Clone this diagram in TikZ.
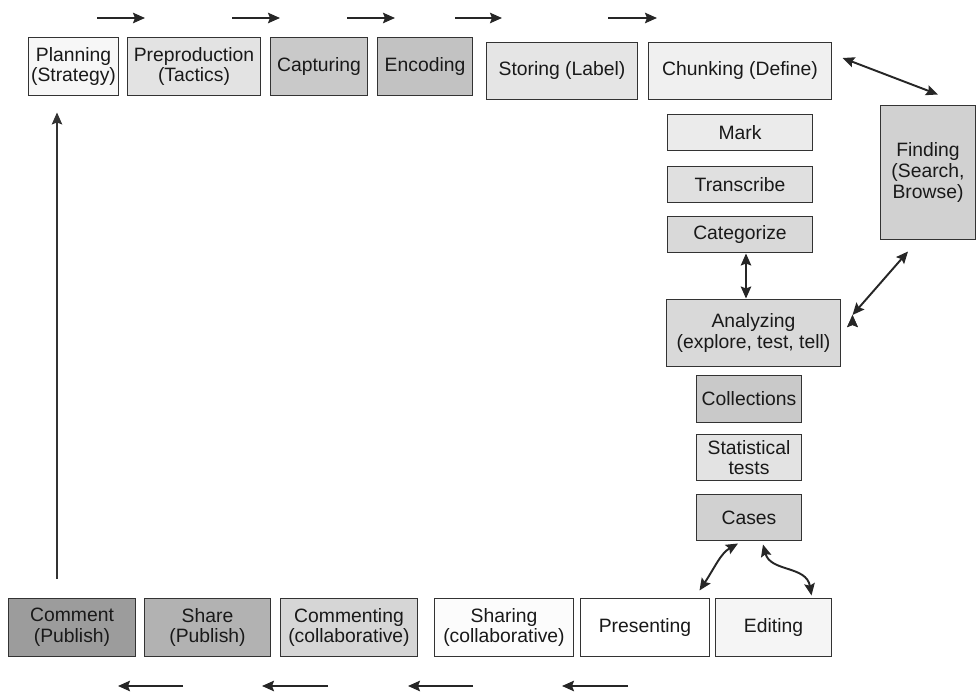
\documentclass[tikz,border=0pt]{standalone}
\usepackage{fontspec}
\setmainfont{Liberation Sans}
\usetikzlibrary{arrows.meta, positioning}

\begin{document}
\begin{tikzpicture}
	\tikzset {>={Stealth[length=2.4mm, width=2.1mm, inset=0.4mm]}, node distance=0.2cm,
		box/.style={draw=black!80, line width=1pt, fill=#1, text=black!90, align=center, inner sep=1pt, outer sep=0pt, minimum height=1.16cm, font=\fontsize{11}{11.8}\selectfont},
		box/.default=white,
		slim/.style={minimum height=0.72cm},
		flow/.style={->, line width=1.1pt, black!85},
		link/.style={<->, line width=1.1pt, black!85} }

	\useasboundingbox (0,0) rectangle (19.56,-13.86);

	% production chain along the top
	\node[box=black!3, minimum width=1.8cm] (plan) at (1.47,-1.33) {Planning\\(Strategy)};
	\node[box=black!11, minimum width=2.66cm, right=0.18cm of plan] (preprod) {Preproduction\\(Tactics)};
	\node[box=black!21, minimum width=1.94cm, right=0.2cm of preprod] (capture) {Capturing};
	\node[box=black!24, minimum width=1.9cm, right=0.2cm of capture] (encode) {Encoding};
	\node[box=black!10, minimum width=3.02cm, minimum height=1.14cm, right=0.28cm of encode, yshift=-0.09cm] (store) {Storing (Label)};
	\node[box=black!6, minimum width=3.66cm, minimum height=1.14cm, right=0.22cm of store] (chunk) {Chunking (Define)};
	\node[box=black!18, minimum width=1.9cm, minimum height=2.68cm] (find) at (18.56,-3.45) {Finding\\(Search,\\Browse)};

	% analysis column
	\node[box=black!8, slim, minimum width=2.9cm, below=0.3cm of chunk] (mark) {Mark};
	\node[box=black!12, slim, minimum width=2.9cm, below=0.32cm of mark] (transcribe) {Transcribe};
	\node[box=black!15, slim, minimum width=2.9cm, below=0.28cm of transcribe] (categorize) {Categorize};
	\node[box=black!15, minimum width=3.48cm, minimum height=1.34cm, below=0.94cm of categorize, xshift=0.27cm] (analyze) {Analyzing\\(explore, test, tell)};
	\node[box=black!21, minimum width=2.1cm, minimum height=0.94cm, below=0.18cm of analyze, xshift=-0.09cm] (collect) {Collections};
	\node[box=black!11, minimum width=2.1cm, minimum height=0.92cm, below=0.24cm of collect] (stats) {Statistical\\tests};
	\node[box=black!18, minimum width=2.1cm, minimum height=0.92cm, below=0.28cm of stats] (cases) {Cases};

	% publishing chain along the bottom
	\node[box=black!39, minimum width=2.54cm] (comment) at (1.44,-12.55) {Comment\\(Publish)};
	\node[box=black!30, minimum width=2.52cm, right=0.18cm of comment] (share) {Share\\(Publish)};
	\node[box=black!16, minimum width=2.74cm, right=0.2cm of share] (commenting) {Commenting\\(collaborative)};
	\node[box=black!1, minimum width=2.78cm, right=0.34cm of commenting] (sharing) {Sharing\\(collaborative)};
	\node[box, minimum width=2.58cm, right=0.14cm of sharing] (present) {Presenting};
	\node[box=black!4, minimum width=2.32cm, right=0.12cm of present] (edit) {Editing};

	% direction markers
	\foreach \n/\a/\b in {1/1.94/2.9, 2/4.64/5.6, 3/6.94/7.9, 4/9.1/10.04, 5/12.16/13.14} {
		\coordinate (top\n a) at (\a,-0.36);
		\coordinate (top\n b) at (\b,-0.36);
		\draw[flow] (top\n a) -- (top\n b);
	}
	\foreach \n/\a/\b in {1/3.66/2.36, 2/6.56/5.24, 3/9.46/8.16, 4/12.56/11.24} {
		\coordinate (bot\n a) at (\a,-13.72);
		\coordinate (bot\n b) at (\b,-13.72);
		\draw[flow] (bot\n a) -- (bot\n b);
	}

	\coordinate (loopfoot) at (1.14,-11.58);
	\draw[->, line width=0.7pt, black!80, shorten >=0.34cm] (loopfoot) -- (loopfoot |- plan.south);

	\draw[link]
		([xshift=0.22cm, yshift=0.26cm]chunk.east) edge ([xshift=0.2cm, yshift=0.22cm]find.north)
		([xshift=0.12cm, yshift=-0.02cm]categorize.south) edge ([xshift=0.12cm, yshift=0.02cm]categorize.south |- analyze.north)
		([xshift=0.24cm, yshift=0.36cm]analyze.east) edge ([xshift=-0.4cm, yshift=-0.24cm]find.south);
	\draw[link] ([xshift=-0.22cm, yshift=-0.06cm]cases.south) .. controls +(-0.35,-0.2) and +(0.3,0.45) .. ([xshift=-0.2cm, yshift=0.16cm]present.north east);
	\draw[link] ([xshift=0.28cm, yshift=-0.08cm]cases.south) .. controls +(0.15,-0.55) and +(-0.1,0.6) .. ([xshift=-0.4cm, yshift=0.06cm]edit.north east);
\end{tikzpicture}
\end{document}
